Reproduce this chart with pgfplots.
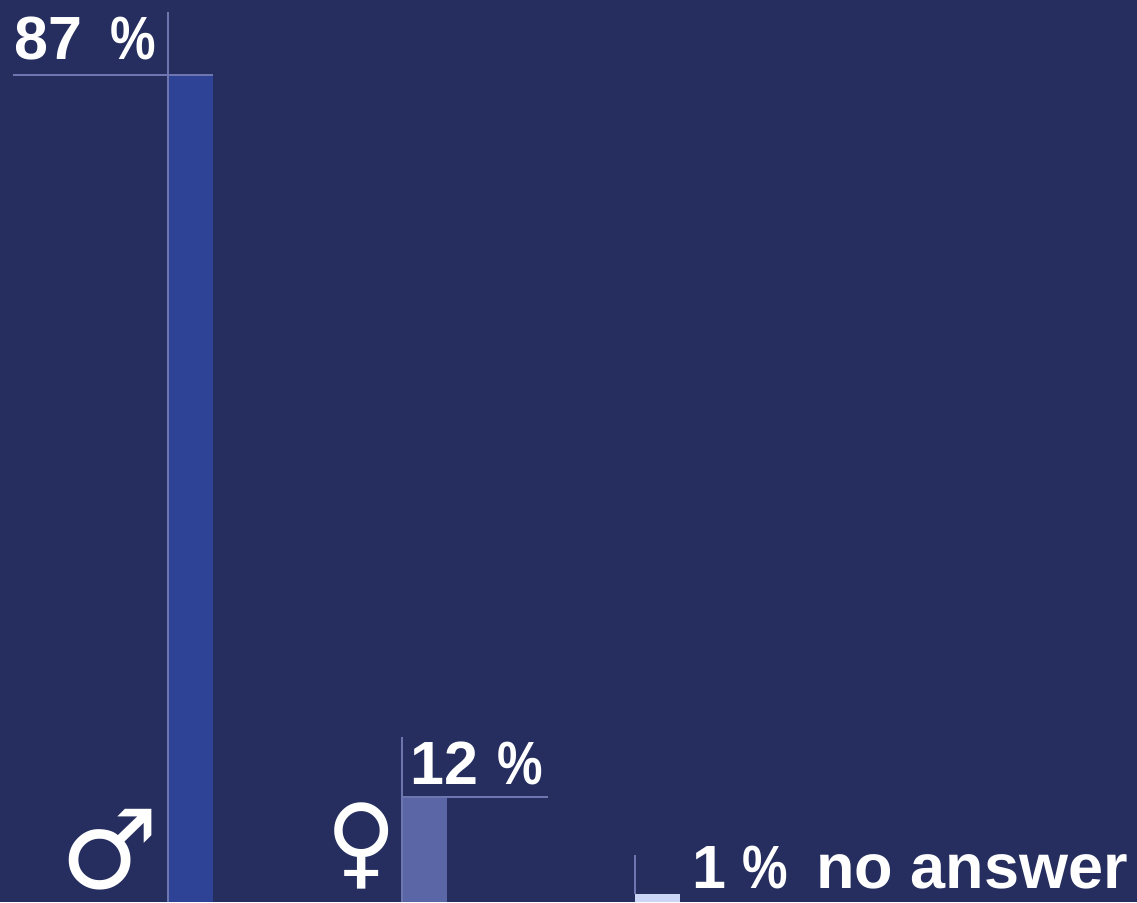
\documentclass[border=0pt]{standalone}
\usepackage{graphicx}
\usepackage{pgfplots}
\pgfplotsset{compat=1.18}
\usepackage{fontspec}
\setmainfont{Liberation Sans}
\newfontfamily\symfont{DejaVu Sans}
\definecolor{bg}{HTML}{252E5E}
\definecolor{barm}{HTML}{2F4396}
\definecolor{barf}{HTML}{5A66A6}
\definecolor{barn}{HTML}{CBD5F5}
\definecolor{leader}{HTML}{6D76AE}
\newcommand{\lab}{\fontsize{61}{61}\selectfont\bfseries\color{white}}
% the percent sign is narrower in the reference
\newcommand{\pct}[1]{\hspace{#1}\scalebox{.84}[1]{\%}}
\begin{document}
\begin{tikzpicture}
\begin{axis}[
  scale only axis,
  width=1137pt,
  height=902pt,
  xmin=0, xmax=1137,
  ymin=0, ymax=94.89,
  xtick=\empty,
  ytick=\empty,
  axis line style={draw=none},
  axis background/.style={fill=bg},
  bar width=45pt,
  ybar,
  bar shift=0pt,
]
% bar heights as drawn
\addplot[draw=none, fill=barm] coordinates {(190.5,87)};
\addplot[draw=none, fill=barf] coordinates {(424,11.05)};
\addplot[draw=none, fill=barn] coordinates {(657,0.84)};
% thin leader lines
\addplot[sharp plot, leader, line width=2pt] coordinates {(168,93.6) (168,0)};
\addplot[sharp plot, leader, line width=2pt] coordinates {(13,87) (212.5,87)};
\addplot[sharp plot, leader, line width=2pt] coordinates {(402,17.36) (402,0)};
\addplot[sharp plot, leader, line width=2pt] coordinates {(402,11.05) (548,11.05)};
\addplot[sharp plot, leader, line width=2pt] coordinates {(635,4.94) (635,0.84)};
\node[anchor=base west, inner sep=0pt] at (axis cs:14,88.6) {\lab 87\pct{28pt}};
\node[anchor=base west, inner sep=0pt] at (axis cs:410,12.4) {\lab 12\pct{19pt}};
\node[anchor=base west, inner sep=0pt] at (axis cs:692,1.4) {\lab 1\pct{16pt}};
\node[anchor=base west, inner sep=0pt] at (axis cs:816,1.4) {\fontsize{63}{63}\selectfont\bfseries\color{white}no answer};
\node[anchor=base, inner sep=0pt] at (axis cs:110,1.47) {\fontsize{110}{110}\selectfont\symfont\color{white}♂};
\node[anchor=base, inner sep=0pt] at (axis cs:362,2.68) {\scalebox{1}[1.05]{\fontsize{96}{96}\selectfont\symfont\color{white}♀}};
\end{axis}
\end{tikzpicture}
\end{document}
